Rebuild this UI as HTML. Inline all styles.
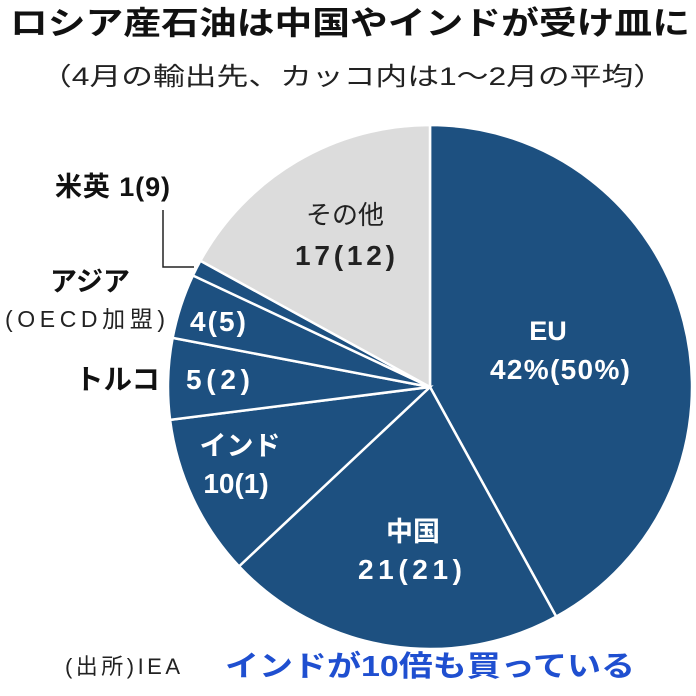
<!DOCTYPE html>
<html><head><meta charset="utf-8"><style>
html,body{margin:0;padding:0;background:#fff;}
svg{display:block;}
text{font-family:"Liberation Sans","Noto Sans CJK JP",sans-serif;}
</style></head><body>
<svg id="s" width="696" height="696" viewBox="0 0 696 696">
<g id="pie"></g>
<text x="10" y="34" font-size="32" font-weight="bold" fill="#111" textLength="680" lengthAdjust="spacingAndGlyphs">ロシア産石油は中国やインドが受け皿に</text>
<text x="40" y="85" font-size="25" fill="#222" textLength="625" lengthAdjust="spacingAndGlyphs">（4月の輸出先、カッコ内は1～2月の平均）</text>
<text x="345" y="224" font-size="26" text-anchor="middle" fill="#222">その他</text>
<text x="295" y="265" font-size="28" font-weight="bold" fill="#222" textLength="100" lengthAdjust="spacing">17(12)</text>
<text x="548" y="340" font-size="27" font-weight="bold" text-anchor="middle" fill="#fff">EU</text>
<text x="490" y="379" font-size="28" font-weight="bold" fill="#fff" textLength="140" lengthAdjust="spacing">42%(50%)</text>
<text x="413" y="541" font-size="27" font-weight="bold" text-anchor="middle" fill="#fff">中国</text>
<text x="358" y="579" font-size="28" font-weight="bold" fill="#fff" textLength="104" lengthAdjust="spacing">21(21)</text>
<text x="240" y="455" font-size="27" font-weight="bold" text-anchor="middle" fill="#fff">インド</text>
<text x="236" y="493" font-size="28" font-weight="bold" fill="#fff" text-anchor="middle">10(1)</text>
<text x="186" y="389" font-size="28" font-weight="bold" fill="#fff" textLength="64" lengthAdjust="spacing">5(2)</text>
<text x="190" y="331" font-size="28" font-weight="bold" fill="#fff" textLength="56" lengthAdjust="spacing">4(5)</text>
<text x="75" y="389" font-size="28" font-weight="bold" fill="#111" textLength="85" lengthAdjust="spacingAndGlyphs">トルコ</text>
<text x="50" y="291" font-size="27" font-weight="bold" fill="#111" textLength="80" lengthAdjust="spacingAndGlyphs">アジア</text>
<text x="5" y="327" font-size="23" fill="#222" textLength="160" lengthAdjust="spacing">(OECD加盟)</text>
<text x="55" y="196" font-size="27" font-weight="bold" fill="#111" textLength="115" lengthAdjust="spacing">米英 1(9)</text>
<polyline points="163,210 163,267 194,267" fill="none" stroke="#222" stroke-width="1.5"/>
<text x="65" y="674" font-size="22" fill="#222" textLength="115" lengthAdjust="spacing">(出所)IEA</text>
<text x="225" y="676" font-size="29" font-weight="bold" fill="#1f4fd0" textLength="410" lengthAdjust="spacingAndGlyphs">インドが10倍も買っている</text>
</svg>
<script>
var cx=430,cy=387,r=262;
var d=[[42,'#1d5080'],[21,'#1d5080'],[10,'#1d5080'],[5,'#1d5080'],[4,'#1d5080'],[1,'#1d5080'],[17,'#dcdcdc']];
var a=0,g=document.getElementById('pie'),h='';
function pt(t){var q=t*3.6*Math.PI/180;return [cx+r*Math.sin(q),cy-r*Math.cos(q)];}
d.forEach(function(s){var p0=pt(a),p1=pt(a+s[0]);var L=s[0]>50?1:0;
h+='<path d="M'+cx+','+cy+' L'+p0[0]+','+p0[1]+' A'+r+','+r+' 0 '+L+' 1 '+p1[0]+','+p1[1]+' Z" fill="'+s[1]+'" stroke="#fff" stroke-width="2.5"/>';a+=s[0];});
g.innerHTML=h;
</script>
</body></html>
